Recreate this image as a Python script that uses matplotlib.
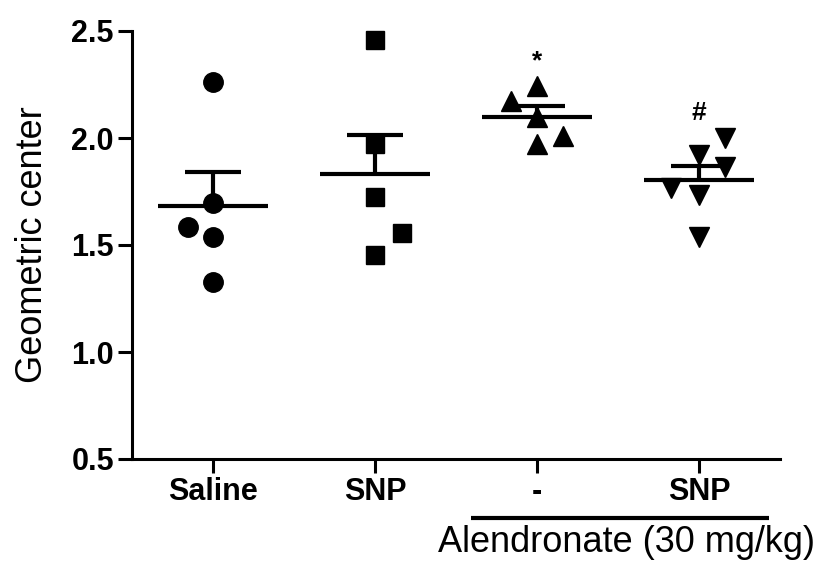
import numpy as np
import matplotlib
matplotlib.use("Agg")
import matplotlib.pyplot as plt
from matplotlib.transforms import blended_transform_factory

plt.rcParams['font.family'] = ['Liberation Sans', 'DejaVu Sans']

categories = ["Saline", "SNP", "-", "SNP"]
saline = [2.263, 1.696, 1.586, 1.539, 1.328]
snp = [2.458, 1.972, 1.724, 1.556, 1.453]
aln = [2.243, 2.173, 2.098, 1.972, 2.009]
aln_snp = [2.000, 1.921, 1.864, 1.766, 1.734, 1.537]
groups = [saline, snp, aln, aln_snp]
jitter = [[0, 0, -0.155, 0, 0],
          [0, 0, 0, 0.167, 0],
          [0, -0.16, 0, 0, 0.16],
          [0.16, 0, 0.16, -0.17, 0, 0]]
markers = ['o', 's', '^', 'v']
marker_sizes = [14, 13.5, 14, 14]
annotations = ["", "", "*", "#"]
yticks = [0.5, 1.0, 1.5, 2.0, 2.5]

fig = plt.figure(figsize=(8.22, 5.67), dpi=100)
ax = fig.add_axes([132/822, 1-459/567, (780-132)/822, (459-31)/567])

for i, (vals, jit) in enumerate(zip(groups, jitter)):
    vals = np.array(vals)
    xs = i + np.array(jit)
    ax.plot(xs, vals, linestyle='none', marker=markers[i], ms=marker_sizes[i],
            color='black', zorder=3, clip_on=False)
    m = vals.mean()
    sem = vals.std(ddof=1) / np.sqrt(len(vals))
    ax.plot([i - 0.34, i + 0.34], [m, m], color='black', lw=3, solid_capstyle='butt', zorder=4)
    ax.plot([i, i], [m, m + sem], color='black', lw=3, solid_capstyle='butt', zorder=4)
    ax.plot([i - 0.17, i + 0.17], [m + sem, m + sem], color='black', lw=3, solid_capstyle='butt', zorder=4)
    if annotations[i]:
        top = vals.max()
        ax.text(i, top + 0.06, annotations[i], ha='center', va='bottom',
                fontsize=19, fontweight='bold')

ax.set_xlim(-0.5, 3.5)
ax.set_ylim(0.5, 2.5)
ax.set_xticks(range(len(categories)))
ax.set_xticklabels(categories, fontsize=22, fontweight='bold')
ax.set_yticks(yticks)
ax.set_yticklabels([f"{t:.1f}" for t in yticks], fontsize=22, fontweight='bold')
for s in ['top', 'right']:
    ax.spines[s].set_visible(False)
for s in ['left', 'bottom']:
    ax.spines[s].set_linewidth(2.2)
ax.tick_params(axis='both', length=10, width=2.2, pad=3, direction='out')
ax.set_ylabel("Geometric center", fontsize=26)
ax.yaxis.set_label_coords(-0.127, 0.5)

trans = blended_transform_factory(ax.transData, ax.transAxes)
ax.plot([1.59, 3.43], [-0.138, -0.138], transform=trans, color='black', lw=3,
        clip_on=False, solid_capstyle='butt')
ax.text(2.555, -0.196, "Alendronate (30 mg/kg)", transform=trans, ha='center',
        va='center', fontsize=26)

fig.savefig("out.png", dpi=100)
